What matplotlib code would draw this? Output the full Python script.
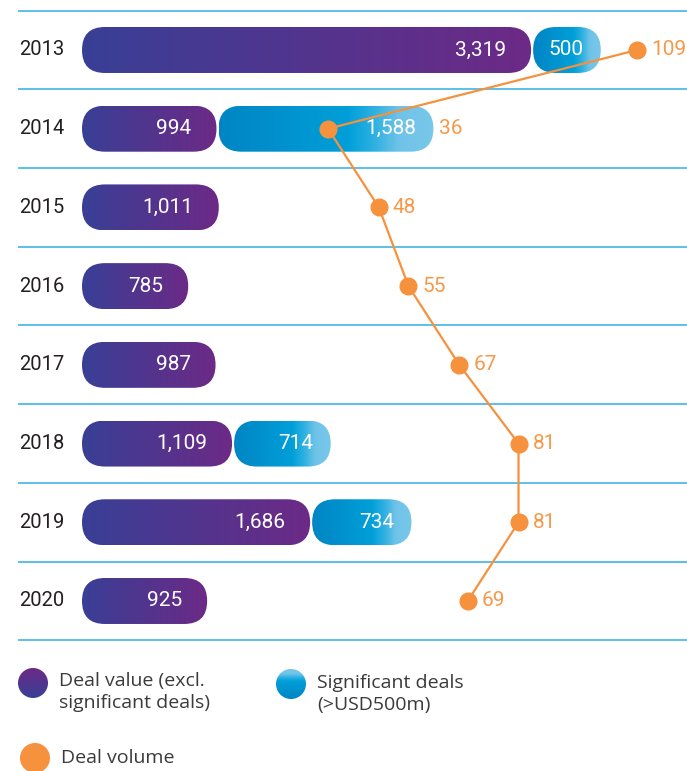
import matplotlib
matplotlib.use("Agg")
import matplotlib.pyplot as plt
import numpy as np
from matplotlib.colors import LinearSegmentedColormap
from matplotlib.patches import FancyBboxPatch, Circle

years = ["2013", "2014", "2015", "2016", "2017", "2018", "2019", "2020"]
deal_value = [3319, 994, 1011, 785, 987, 1109, 1686, 925]
significant = [500, 1588, 0, 0, 0, 714, 734, 0]
volume = [109, 36, 48, 55, 67, 81, 81, 69]

W, H = 687, 771
plt.rcParams["font.family"] = ["Roboto", "DejaVu Sans"]

purple = LinearSegmentedColormap.from_list("p", ["#393f96", "#6c2a86"])
blue = LinearSegmentedColormap.from_list(
    "b", [(0, "#0085c4"), (0.6, "#009fd9"), (0.72, "#2cb0e1"),
          (0.84, "#70c3e8"), (1, "#78c7e9")])
orange = "#f6913d"
orange_txt = "#f59a4c"
sep_col = "#5bbfea"

fig = plt.figure(figsize=(W / 100, H / 100), dpi=100)
ax = fig.add_axes([0, 0, 1, 1])
xl = (-606, 4471)
yl = (9.16, -0.635)
ax.set_xlim(*xl)
ax.set_ylim(*yl)
ax.axis("off")

sx = W / (xl[1] - xl[0])   # px per value unit
sy = H / (yl[0] - yl[1])   # px per row
bar_h = 46 / sy
gap = 2 / sx
grad = np.linspace(0, 1, 256).reshape(1, -1)


def pill(x0, w, y, cmap):
    ma = sx / sy
    r = bar_h * sy / 2 / sx
    p = FancyBboxPatch((x0, y - bar_h / 2), w, bar_h,
                       boxstyle=f"round,pad=0,rounding_size={r}",
                       mutation_aspect=ma, fc="none", ec="none")
    ax.add_patch(p)
    im = ax.imshow(grad, cmap=cmap, extent=(x0, x0 + w, y + bar_h / 2, y - bar_h / 2),
                   aspect="auto", interpolation="bicubic", zorder=2)
    im.set_clip_path(p)


# separators
for y in np.arange(-0.5, len(years)):
    ax.axhline(y, xmin=19 / W, xmax=1, color=sep_col, lw=1.4, zorder=1)

bar_end = []
for i, yr in enumerate(years):
    ax.annotate(yr, xy=(19 / W, i), xycoords=("axes fraction", "data"),
                ha="left", va="center", fontsize=14.5, color="#231f20")
    pill(0, deal_value[i], i, purple)
    ax.annotate(f"{deal_value[i]:,}", xy=(deal_value[i], i), xytext=(-25, 0),
                textcoords="offset pixels", ha="right", va="center",
                fontsize=15, color="white", zorder=3)
    end = deal_value[i]
    if significant[i] > 0:
        x0 = deal_value[i] + gap
        pill(x0, significant[i], i, blue)
        ax.annotate(f"{significant[i]:,}", xy=(x0 + significant[i], i), xytext=(-17, 0),
                    textcoords="offset pixels", ha="right", va="center",
                    fontsize=15, color="white", zorder=3)
        end = x0 + significant[i]
    bar_end.append(end)

ax.set_xlim(*xl)
ax.set_ylim(*yl)

# deal volume line
axv = ax.twiny()
axv.set_xlim(-41.5, 120.8)
axv.axis("off")
rows = np.arange(len(years))
axv.plot(volume, rows, color=orange, lw=1.6, marker="o", ms=12, zorder=5, clip_on=False)
for i, v in enumerate(volume):
    p_px = axv.transData.transform((v, i))[0]
    b_px = ax.transData.transform((bar_end[i], i))[0]
    dx = max(14, b_px + 6 - p_px)
    axv.annotate(str(v), xy=(v, i), xytext=(dx, 0), textcoords="offset pixels",
                 ha="left", va="center", fontsize=15, color=orange_txt,
                 annotation_clip=False)

# legend
axl = fig.add_axes([0, 0, 1, 1])
axl.set_xlim(0, W)
axl.set_ylim(H, 0)
axl.axis("off")
vgrad = np.linspace(1, 0, 128).reshape(-1, 1)
c1 = Circle((33, 683), 15, fc="none", ec="none")
axl.add_patch(c1)
im = axl.imshow(vgrad, cmap=purple, extent=(18, 48, 698, 668), aspect="auto")
im.set_clip_path(c1)
c2 = Circle((291, 684), 15, fc="none", ec="none")
axl.add_patch(c2)
im = axl.imshow(np.linspace(0.95, 0.05, 128).reshape(-1, 1), cmap=blue,
                extent=(276, 306, 699, 669), aspect="auto")
im.set_clip_path(c2)
axl.add_patch(Circle((35, 758), 15, fc=orange, ec="none"))
axl.set_xlim(0, W)
axl.set_ylim(H, 0)

leg_col = "#3a3a3a"
leg_font = ["Open Sans", "DejaVu Sans"]
axl.text(59, 692, "Deal value (excl.\nsignificant deals)", va="center", ha="left",
         fontsize=14, color=leg_col, linespacing=1.25, family=leg_font)
axl.text(317, 694, "Significant deals\n(>USD500m)", va="center", ha="left",
         fontsize=14, color=leg_col, linespacing=1.25, family=leg_font)
axl.text(61, 758, "Deal volume", va="center", ha="left", fontsize=14, color=leg_col,
         family=leg_font)

fig.savefig("out.png", dpi=100)
